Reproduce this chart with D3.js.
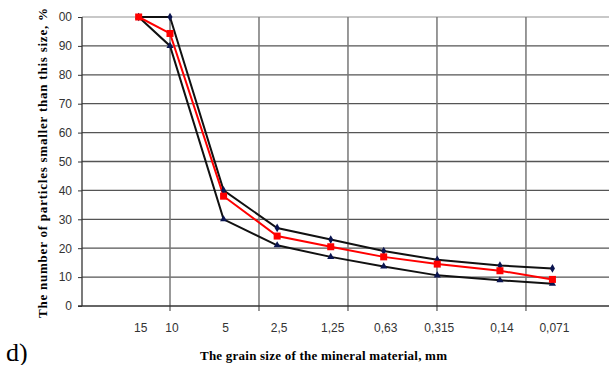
<!DOCTYPE html>
<html>
<head>
<meta charset="utf-8">
<script src="https://cdn.jsdelivr.net/npm/d3@7"></script>
<style>
body{margin:0;background:#fff;}
svg{display:block;}
.tick text{font-family:"Liberation Sans Narrow","Liberation Sans",Arial,sans-serif;font-size:12px;fill:#333;}
.title{font-family:"Liberation Serif","Times New Roman",serif;font-weight:bold;font-size:13px;fill:#000;}
</style>
</head>
<body>
<script>
// sieve sizes, mm
var sizes = [15, 10, 5, 2.5, 1.25, 0.63, 0.315, 0.14, 0.071];
var sizeLabels = ['15','10','5','2,5','1,25','0,63','0,315','0,14','0,071'];
var upperValues = [100, 100, 40, 27, 23, 19, 16, 14, 13];
var designValues = [100, 94.3, 38, 24.2, 20.5, 17, 14.5, 12.2, 9.2];
var lowerValues = [100, 90, 30, 21, 17, 13.7, 10.6, 8.9, 7.7];
var yTicks = [0,10,20,30,40,50,60,70,80,90,100];

var W = 609, H = 365;
var svg = d3.select('body').append('svg').attr('width',W).attr('height',H);

var plotLeft = 82, plotTop = 17, plotBottom = 306;
// reversed log scale: about 178 px per decade
var xScale = d3.scaleLog().domain([10, 0.0316]).range([170, 615]);
var yScale = d3.scaleLinear().domain([0,100]).range([plotBottom, plotTop]);

var g = svg.append('g');

// horizontal grid
g.selectAll('line.hgrid').data(yTicks.filter(function(d){return d>0;})).enter()
	.append('line').attr('class','hgrid')
	.attr('x1',plotLeft).attr('x2',W)
	.attr('y1',function(d){return yScale(d);}).attr('y2',function(d){return yScale(d);})
	.attr('stroke',function(d){return d==100 ? '#c8c8c8' : '#555';})
	.attr('stroke-width',function(d){return d==100 ? 2 : 1.3;});

// vertical grid every half decade
var vGrid = [10, Math.sqrt(10), 1, Math.sqrt(0.1), 0.1];
g.selectAll('line.vgrid').data(vGrid).enter()
	.append('line').attr('class','vgrid')
	.attr('x1',function(d){return xScale(d);}).attr('x2',function(d){return xScale(d);})
	.attr('y1',plotTop).attr('y2',plotBottom+5)
	.attr('stroke','#777').attr('stroke-width',1.5);

// y axis
var yAxis = d3.axisLeft(yScale).tickValues(yTicks).tickSize(4).tickPadding(6)
	.tickFormat(function(d){return d==100 ? '00' : d;});
var yAxisG = g.append('g').attr('transform','translate('+plotLeft+',0)').call(yAxis);
yAxisG.select('.domain').attr('stroke','#333').attr('stroke-width',1.3).attr('d','M0,'+plotTop+'V'+plotBottom);
yAxisG.selectAll('.tick line').attr('stroke','#333');

// x axis line
g.append('line').attr('x1',plotLeft-4).attr('x2',W).attr('y1',plotBottom).attr('y2',plotBottom)
	.attr('stroke','#333').attr('stroke-width',1.5);

// x labels
g.selectAll('text.xlab').data(sizes).enter()
	.append('text').attr('class','xlab')
	.attr('x',function(d){return xScale(d)+2;})
	.attr('y',plotBottom+26)
	.attr('text-anchor','middle')
	.style('font-family','"Liberation Sans Narrow","Liberation Sans",Arial,sans-serif')
	.style('font-size','12px').style('fill','#333')
	.text(function(d,i){return sizeLabels[i];});

var line = d3.line()
	.x(function(d,i){return xScale(sizes[i]);})
	.y(function(d){return yScale(d);});

function drawSeries(values,color,width){
	g.append('path').datum(values).attr('d',line)
		.attr('fill','none').attr('stroke',color).attr('stroke-width',width);
}
drawSeries(upperValues,'#111',2);
drawSeries(lowerValues,'#111',2);
drawSeries(designValues,'#ff0000',2);

// markers
g.selectAll('path.diamond').data(upperValues).enter()
	.append('path').attr('class','diamond')
	.attr('d',d3.symbol().type(d3.symbolDiamond).size(22))
	.attr('transform',function(d,i){return 'translate('+xScale(sizes[i])+','+yScale(d)+')';})
	.attr('fill','#0a1450');
g.selectAll('path.tri').data(lowerValues).enter()
	.append('path').attr('class','tri')
	.attr('d',d3.symbol().type(d3.symbolTriangle).size(22))
	.attr('transform',function(d,i){return 'translate('+xScale(sizes[i])+','+yScale(d)+')';})
	.attr('fill','#0a1450');
g.selectAll('rect.sq').data(designValues).enter()
	.append('rect').attr('class','sq')
	.attr('x',function(d,i){return xScale(sizes[i])-3.5;})
	.attr('y',function(d){return yScale(d)-3.5;})
	.attr('width',7).attr('height',7)
	.attr('fill','#ff0000');

// titles
svg.append('text').attr('class','title')
	.attr('transform','translate(47,318) rotate(-90)')
	.attr('textLength',310).attr('lengthAdjust','spacing')
	.text('The number  of particles smaller than this size, %');
svg.append('text').attr('class','title')
	.attr('x',200).attr('y',360)
	.attr('textLength',247).attr('lengthAdjust','spacing')
	.text('The grain size of the mineral material, mm');
svg.append('text').attr('x',6).attr('y',361)
	.style('font-family','"Liberation Serif","Times New Roman",serif')
	.style('font-size','26px').text('d)');
</script>
</body>
</html>
